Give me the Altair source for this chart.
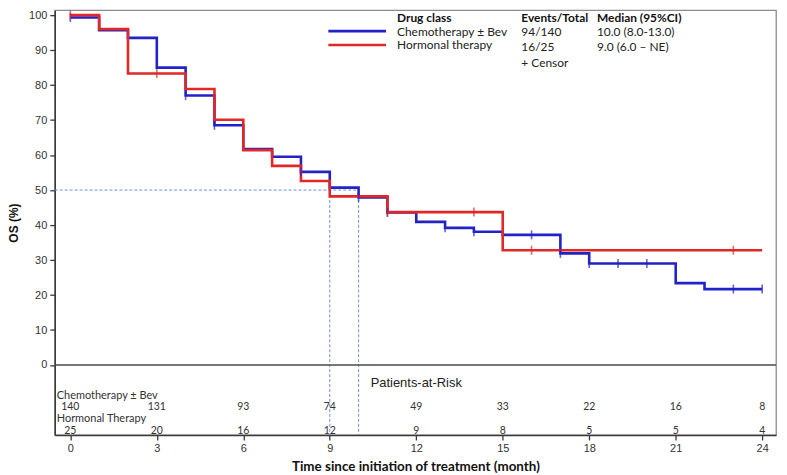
import altair as alt
import pandas as pd

# ---------------- data ----------------
chemo_name = "Chemotherapy ± Bev"
horm_name = "Hormonal therapy"

chemo_time = [0, 1, 2, 3, 4, 5, 6, 7, 8, 9, 10, 11, 12, 13, 14, 15, 17, 18, 21, 22, 24]
chemo_surv = [99.3, 95.7, 93.5, 85.0, 77.0, 68.5, 61.7, 59.5, 55.2, 50.7, 47.9, 43.6,
              40.9, 39.2, 38.1, 37.2, 31.9, 29.0, 23.4, 21.7, 21.7]
horm_time = [0, 1, 2, 4, 5, 6, 7, 8, 9, 11, 15, 24]
horm_surv = [100.0, 96.0, 83.3, 78.9, 70.1, 61.4, 56.9, 52.6, 48.2, 43.7, 32.8, 32.8]

chemo_censor = [0, 4, 5, 8, 10, 11, 13, 14, 16, 17, 18, 19, 20, 23, 24]
horm_censor = [0, 3, 11, 14, 16, 23]

risk_months = [0, 3, 6, 9, 12, 15, 18, 21, 24]
chemo_risk = [140, 131, 93, 74, 49, 33, 22, 16, 8]
horm_risk = [25, 20, 16, 12, 9, 8, 5, 5, 4]

median_months = [9.0, 10.0]
median_level = 50

legend_events = ["94/140", "16/25"]
legend_median = ["10.0 (8.0-13.0)", "9.0 (6.0 \u2013 NE)"]

BLUE = "#2222c8"
RED = "#e02828"
DASH = "#6f8fdc"

# ---------------- layout ----------------
W, H = 725, 427
XDOM = [-0.54, 24.48]
YDOM = [-20.0, 101.4]
xs = alt.Scale(domain=XDOM, nice=False, zero=False)
ys = alt.Scale(domain=YDOM, nice=False, zero=False)

x_axis = alt.Axis(values=risk_months, title="Time since initiation of treatment (month)",
                  grid=False, tickSize=5, labelPadding=3, labelFontSize=11,
                  labelFont="Liberation Sans", titleFont="Lato", titleFontSize=13.5,
                  titleFontWeight="bold", titlePadding=6, titleColor="#111")
y_axis = alt.Axis(values=list(range(0, 101, 10)), title="OS (%)", grid=False, tickSize=5,
                  labelPadding=3, labelFontSize=11, labelFont="Liberation Sans",
                  titleFont="Liberation Sans", titleFontSize=12, titleFontWeight="bold",
                  titlePadding=8, titleColor="#111")


def step_value(times, surv, t):
    v = surv[0]
    for tt, s in zip(times, surv):
        if tt <= t:
            v = s
    return v


curve_df = pd.DataFrame(
    [{"t": t, "s": s, "g": chemo_name} for t, s in zip(chemo_time, chemo_surv)]
    + [{"t": t, "s": s, "g": horm_name} for t, s in zip(horm_time, horm_surv)]
)
cens_df = pd.DataFrame(
    [{"t": t, "s": step_value(chemo_time, chemo_surv, t), "g": chemo_name} for t in chemo_censor]
    + [{"t": t, "s": step_value(horm_time, horm_surv, t), "g": horm_name} for t in horm_censor]
)
color = alt.Color("g:N", scale=alt.Scale(domain=[chemo_name, horm_name], range=[BLUE, RED]),
                  legend=None)

X = lambda f: alt.X(f, scale=xs, axis=x_axis)
Y = lambda f: alt.Y(f, scale=ys, axis=y_axis)

# median dashed lines
hline_df = pd.DataFrame({"a": [XDOM[0]], "b": [max(median_months)], "v": [median_level]})
hline = alt.Chart(hline_df).mark_rule(color=DASH, strokeDash=[3, 2], strokeWidth=1).encode(
    x=X("a:Q"), x2="b:Q", y=Y("v:Q"))
vline_df = pd.DataFrame({"m": median_months, "v": [median_level] * 2, "bot": [YDOM[0]] * 2})
vline = alt.Chart(vline_df).mark_rule(color=DASH, strokeDash=[3, 2], strokeWidth=1).encode(
    x=X("m:Q"), y=Y("v:Q"), y2="bot:Q")

zero_df = pd.DataFrame({"v": [0]})
zero = alt.Chart(zero_df).mark_rule(color="#4a4a4a", strokeWidth=1.5).encode(y=Y("v:Q"))

blue_line = alt.Chart(curve_df[curve_df.g == chemo_name]).mark_line(
    interpolate="step-after", strokeWidth=2.6).encode(x=X("t:Q"), y=Y("s:Q"), color=color)
red_line = alt.Chart(curve_df[curve_df.g == horm_name]).mark_line(
    interpolate="step-after", strokeWidth=2.6).encode(x=X("t:Q"), y=Y("s:Q"), color=color)
ticks = alt.Chart(cens_df).mark_tick(orient="vertical", size=9, thickness=1.6).encode(
    x=X("t:Q"), y=Y("s:Q"), color=color)

# risk table
risk_df = pd.DataFrame({"m": risk_months, "c": chemo_risk, "h": horm_risk})
risk_c = alt.Chart(risk_df).mark_text(font="Lato", fontSize=10.5, color="#333",
                                      baseline="middle").encode(
    x=X("m:Q"), y=alt.value(399), text="c:Q")
risk_h = alt.Chart(risk_df).mark_text(font="Lato", fontSize=10.5, color="#333",
                                      baseline="middle").encode(
    x=X("m:Q"), y=alt.value(422.5), text="h:Q")
row_lab_df = pd.DataFrame({"lab": [chemo_name, "Hormonal Therapy"], "py": [387.5, 411]})
row_lab = alt.Chart(row_lab_df).mark_text(font="Lato", fontSize=11, color="#333",
                                          align="left", baseline="middle").encode(
    x=alt.value(2), y=alt.Y("py:Q", scale=None), text="lab:N")
par_df = pd.DataFrame({"m": [12], "lab": ["Patients-at-Risk"]})
par = alt.Chart(par_df).mark_text(font="Liberation Sans", fontSize=13, color="#222",
                                  baseline="middle").encode(
    x=X("m:Q"), y=alt.value(374.5), text="lab:N")

# manual legend
leg_line_df = pd.DataFrame({"g": [chemo_name, horm_name], "py": [21, 35]})
leg_lines = alt.Chart(leg_line_df).mark_rule(strokeWidth=2.6).encode(
    x=alt.value(275), x2=alt.value(333), y=alt.Y("py:Q", scale=None), color=color)
leg_txt_df = pd.DataFrame({
    "lab": [chemo_name, horm_name] + legend_events + ["+ Censor"] + legend_median,
    "px": [344, 344, 469, 469, 469, 545, 545],
    "py": [21.5, 35.5, 22, 37, 53, 22, 37],
})
leg_txt = alt.Chart(leg_txt_df).mark_text(font="Lato", fontSize=12, color="#222",
                                          align="left", baseline="middle").encode(
    x=alt.X("px:Q", scale=None), y=alt.Y("py:Q", scale=None), text="lab:N")
leg_head_df = pd.DataFrame({"lab": ["Drug class", "Events/Total", "Median (95%CI)"],
                            "px": [344, 469, 545], "py": [8, 8, 8]})
leg_head = alt.Chart(leg_head_df).mark_text(font="Lato", fontSize=12, fontWeight="bold",
                                            color="#111", align="left",
                                            baseline="middle").encode(
    x=alt.X("px:Q", scale=None), y=alt.Y("py:Q", scale=None), text="lab:N")

chart = alt.layer(
    hline, vline, zero, blue_line, red_line, ticks,
    risk_c, risk_h, row_lab, par, leg_lines, leg_txt, leg_head
).properties(
    width=W, height=H,
    autosize=alt.AutoSizeParams(type="none"),
    padding={"left": 47, "top": 1, "right": 3, "bottom": 39},
).configure_view(
    stroke="#8c8c8c", strokeWidth=1.3
).configure_axis(
    domainColor="#3a3a3a", domainWidth=1.5, tickColor="#3a3a3a", tickWidth=1.3,
    labelColor="#333"
)

chart.save("out.html", embed_options={"renderer": "svg", "actions": False})
